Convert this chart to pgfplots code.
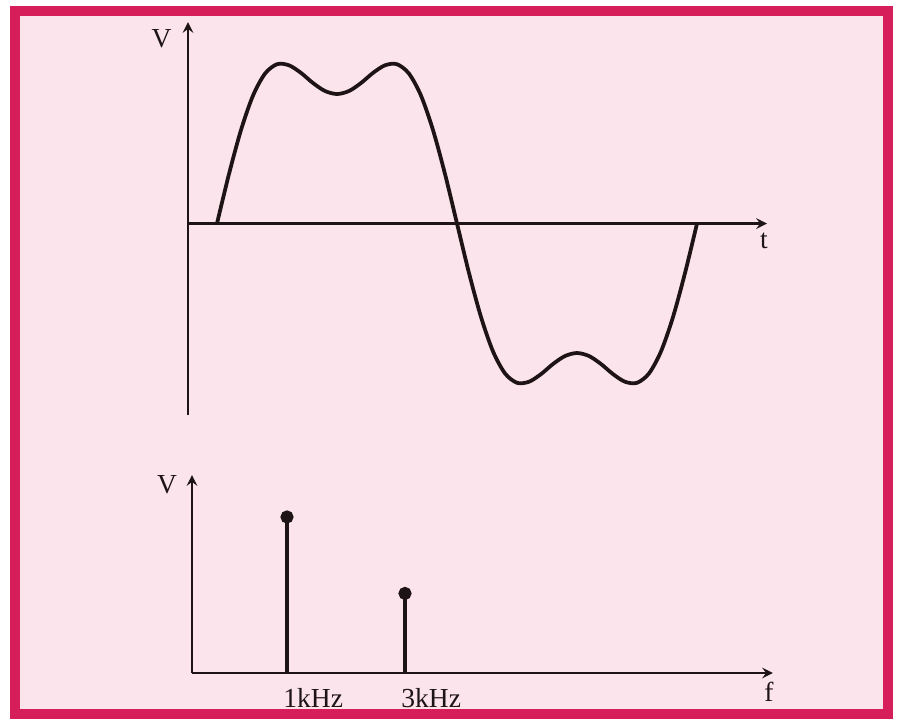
\documentclass[border=0pt]{standalone}
\usepackage{fontspec}
\setmainfont{Liberation Serif}
\usepackage{pgfplots}
\usepackage{pgfplotstable}
\pgfplotsset{compat=1.18}
\usetikzlibrary{arrows.meta}
\definecolor{frame}{HTML}{D61E5A}
\definecolor{paper}{HTML}{FBE4EC}
\definecolor{ink}{HTML}{1E1416}

% one period of the wave (t in ms), fundamental plus third harmonic
\pgfplotstableread{
t v
0 0
0.025 0.279
0.05 0.527
0.075 0.721
0.1 0.845
0.125 0.898
0.15 0.892
0.175 0.849
0.2 0.792
0.225 0.747
0.25 0.730
0.275 0.747
0.3 0.792
0.325 0.849
0.35 0.892
0.375 0.898
0.4 0.845
0.425 0.721
0.45 0.527
0.475 0.279
0.5 0
0.525 -0.279
0.55 -0.527
0.575 -0.721
0.6 -0.845
0.625 -0.898
0.65 -0.892
0.675 -0.849
0.7 -0.792
0.725 -0.747
0.75 -0.730
0.775 -0.747
0.8 -0.792
0.825 -0.849
0.85 -0.892
0.875 -0.898
0.9 -0.845
0.925 -0.721
0.95 -0.527
0.975 -0.279
1 0
}\wave

\pgfplotstableread{
f v
1 1
3 0.51
}\spectrum

\pgfplotsset{
  sketch/.style={
    scale only axis, clip=false,
    axis line style={ink, line width=0.9pt},
    every inner x axis line/.append style={-{Stealth[length=6pt,width=3.4pt]}},
    every outer x axis line/.append style={-{Stealth[length=6pt,width=3.4pt]}},
    every inner y axis line/.append style={-{Stealth[length=6pt,width=3.4pt]}},
    every outer y axis line/.append style={-{Stealth[length=6pt,width=3.4pt]}},
    ytick=\empty, major tick length=0pt,
    anchor=south west,
  }
}

\begin{document}
\begin{tikzpicture}[font=\fontsize{11}{13}\selectfont]
\fill[white] (0,0) rectangle (359.6pt,287.6pt);
\filldraw[fill=paper, draw=frame, line width=4pt] (6pt,2.2pt) rectangle (355.2pt,283.2pt);

% time domain
\begin{axis}[sketch,
    at={(75.2pt,121.6pt)}, width=231.6pt, height=157.2pt,
    axis x line=middle, axis y line=left,
    xtick=\empty,
    xmin=-0.0604, xmax=1.1458, ymin=-1.0795, ymax=1.136]
\addplot[ink, line width=1.5pt, smooth] table[x=t, y=v] {\wave};
\end{axis}

% frequency domain
\begin{axis}[sketch,
    at={(76.8pt,18.4pt)}, width=232.4pt, height=79.2pt,
    axis lines=left,
    xmin=-0.61, xmax=9.237, ymin=0, ymax=1.269,
    xtick={1,3}, xticklabels={1kHz,3kHz},
    xticklabel style={anchor=north west, inner sep=0pt, xshift=-1.6pt, yshift=-6pt, text=ink}]
\addplot[ink, line width=1.6pt, ycomb, mark=*, mark size=1.8pt] table[x=f, y=v] {\spectrum};
\end{axis}

\node[text=ink] at (64.6pt,272.2pt) {V};
\node[text=ink] at (305.6pt,191.2pt) {t};
\node[text=ink] at (66.8pt,93.6pt) {V};
\node[text=ink] at (307.6pt,10.8pt) {f};
\end{tikzpicture}
\end{document}
